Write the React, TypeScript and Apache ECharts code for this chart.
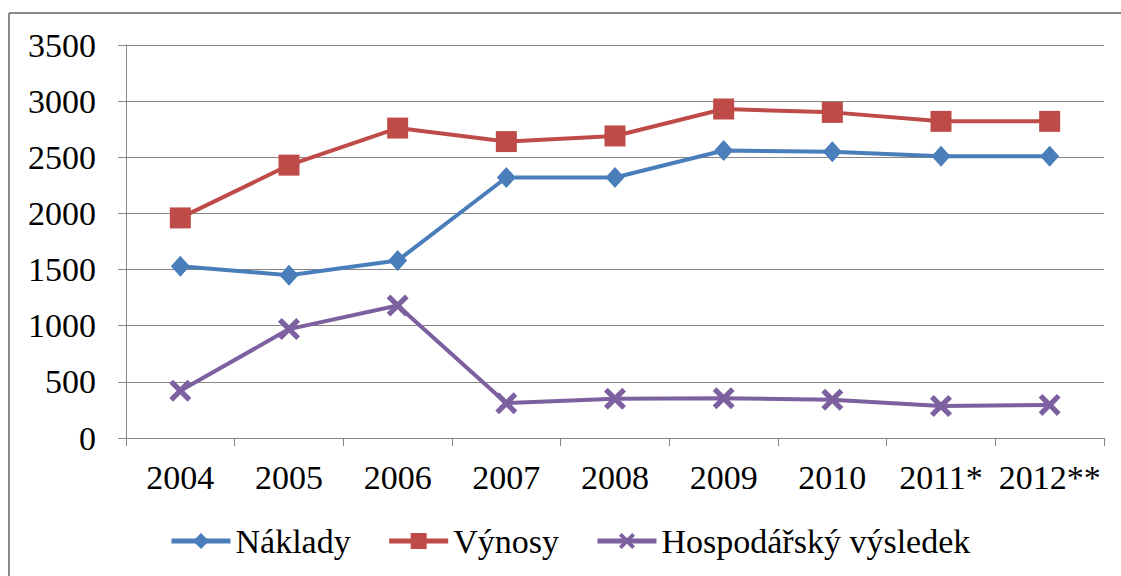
import React, { useEffect, useRef } from "react";
import * as echarts from "echarts";

const categories = ["2004", "2005", "2006", "2007", "2008", "2009", "2010", "2011*", "2012**"];
const naklady = [1530, 1450, 1580, 2320, 2320, 2560, 2550, 2510, 2510];
const vynosy = [1960, 2430, 2760, 2640, 2690, 2930, 2900, 2820, 2820];
const vysledek = [420, 970, 1180, 310, 350, 355, 340, 285, 295];
const yTicks = { min: 0, max: 3500, interval: 500 };

const FONT = "'Liberation Serif', 'Times New Roman', serif";
const CROSS = "path://M0,1.7 L1.7,0 L5,3.3 L8.3,0 L10,1.7 L6.7,5 L10,8.3 L8.3,10 L5,6.7 L1.7,10 L0,8.3 L3.3,5 Z";

export default function App() {
  const ref = useRef<HTMLDivElement>(null);
  useEffect(() => {
    if (!ref.current) return;
    const chart = echarts.init(ref.current, null, { renderer: "svg" });
    const axisColor = "#868686";
    chart.setOption({
      animation: false,
      backgroundColor: "#ffffff",
      textStyle: { fontFamily: FONT },
      grid: { left: 126, right: 17, top: 45, bottom: 138, containLabel: false },
      xAxis: {
        type: "category",
        data: categories,
        boundaryGap: true,
        axisLine: { show: true, lineStyle: { color: axisColor, width: 1 } },
        axisTick: { show: true, alignWithLabel: false, length: 8, lineStyle: { color: axisColor } },
        axisLabel: { color: "#000", fontFamily: FONT, fontSize: 34, margin: 22, interval: 0 },
        splitLine: { show: false },
      },
      yAxis: {
        type: "value",
        min: yTicks.min,
        max: yTicks.max,
        interval: yTicks.interval,
        axisLine: { show: true, lineStyle: { color: axisColor, width: 1 } },
        axisTick: { show: true, length: 8, lineStyle: { color: axisColor } },
        axisLabel: {
          color: "#000",
          fontFamily: FONT,
          fontSize: 34,
          margin: 30,
          formatter: (v: number) => String(v),
        },
        splitLine: { show: true, lineStyle: { color: axisColor, width: 1 } },
      },
      legend: {
        left: 169,
        top: 524,
        padding: 0,
        itemWidth: 59,
        itemHeight: 20,
        itemGap: 36,
        lineStyle: { width: 5 },
        textStyle: { color: "#000", fontFamily: FONT, fontSize: 34 },
        data: ["Náklady", "Výnosy", "Hospodářský výsledek"],
      },
      series: [
        {
          name: "Náklady",
          type: "line",
          data: naklady,
          symbol: "diamond",
          symbolSize: [19, 21],
          lineStyle: { color: "#4A7EBB", width: 4 },
          itemStyle: { color: "#4A7EBB" },
        },
        {
          name: "Výnosy",
          type: "line",
          data: vynosy,
          symbol: "rect",
          symbolSize: 21,
          lineStyle: { color: "#BE4B48", width: 4 },
          itemStyle: { color: "#BE4B48" },
        },
        {
          name: "Hospodářský výsledek",
          type: "line",
          data: vysledek,
          symbol: CROSS,
          symbolSize: 22,
          lineStyle: { color: "#7D60A0", width: 4 },
          itemStyle: { color: "#7D60A0" },
        },
      ],
      graphic: [
        { type: "line", shape: { x1: 9, y1: 13, x2: 1121, y2: 13 }, style: { stroke: "#8a8a8a", lineWidth: 2 } },
        { type: "line", shape: { x1: 9, y1: 13, x2: 9, y2: 576 }, style: { stroke: "#8a8a8a", lineWidth: 2 } },
      ],
    });
    return () => chart.dispose();
  }, []);
  return (
    <div
      ref={ref}
      style={{ position: "fixed", left: 0, top: 0, width: 1121, height: 576, background: "#fff" }}
    />
  );
}
